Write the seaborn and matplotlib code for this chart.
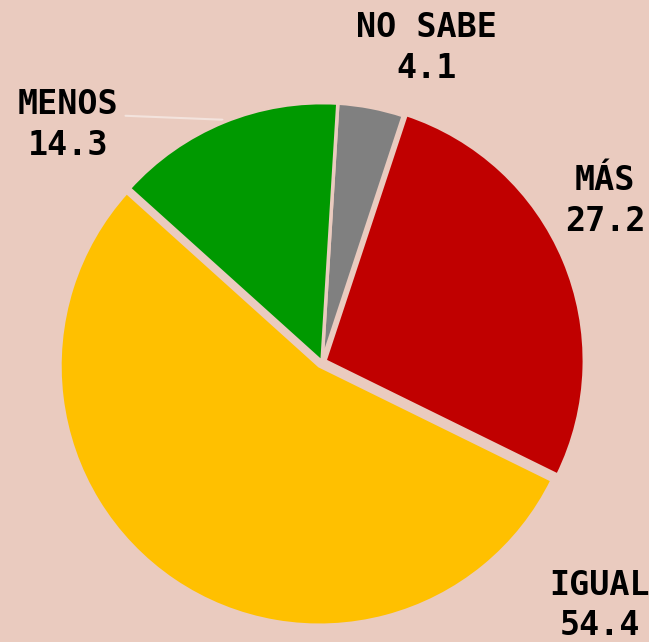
import matplotlib
matplotlib.use("Agg")
import matplotlib.pyplot as plt
import seaborn as sns

# data
categories = ["NO SABE", "MÁS", "IGUAL", "MENOS"]
values = [4.1, 27.2, 54.4, 14.3]
colors = ["#808080", "#C00000", "#FFC000", "#009900"]

# layout only
explode = [0.0, 0.012, 0.018, 0.0]
label_pos = [(0.40, 1.20), (1.08, 0.615), (1.06, -0.93), (-0.97, 0.905)]
bg = "#EACBBF"

sns.set_theme(style="white")
plt.rcParams["font.family"] = ["DejaVu Sans Mono", "DejaVu Sans"]

fig = plt.figure(figsize=(6.49, 6.42), dpi=100, facecolor=bg)
ax = fig.add_axes([0, 0, 1, 1], facecolor=bg)

wedges, _ = ax.pie(values, colors=colors, startangle=86.5, counterclock=False,
                   explode=explode, radius=0.99,
                   wedgeprops=dict(edgecolor=bg, linewidth=2.5))

for name, val, (x, y) in zip(categories, values, label_pos):
    ax.text(x, y, f"{name}\n{val:.1f}", ha="center", va="center",
            fontsize=24, fontweight="bold", color="black", linespacing=1.3)

# leader line for MENOS
ax.plot([-0.75, -0.38], [0.94, 0.925], color="#F3E3DD", lw=1.5, zorder=0)

ax.set_aspect("auto")
ax.set_xlim(-1.229, 1.248)
ax.set_ylim(-1.069, 1.382)
ax.axis("off")

fig.savefig("out.png", dpi=100, facecolor=bg)
